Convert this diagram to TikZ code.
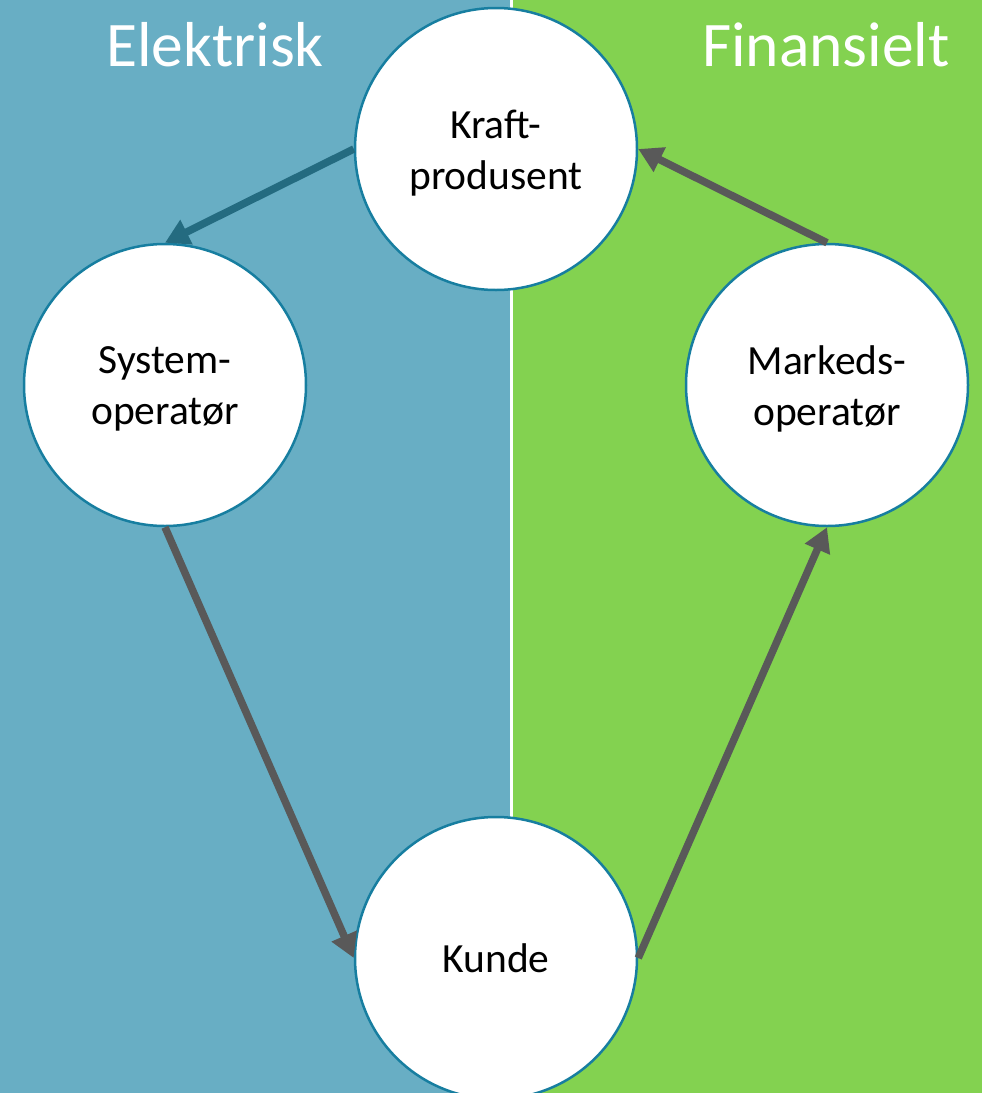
\documentclass[tikz,border=0pt]{standalone}
\usepackage{fontspec}
\setmainfont{Carlito}
\usetikzlibrary{arrows.meta}
\definecolor{bgblue}{RGB}{104,174,196}
\definecolor{bggreen}{RGB}{131,210,80}
\definecolor{ringblue}{RGB}{23,126,160}
\definecolor{arrteal}{RGB}{36,107,128}
\definecolor{arrgray}{RGB}{89,89,89}
\tikzset{
  actor/.style={circle, draw=ringblue, line width=2.5pt, fill=white, minimum size=282pt, inner sep=0pt, align=center, font=\fontsize{41.5}{51}\selectfont},
  flow/.style={line width=7.5pt, -{Triangle[length=24pt,width=26pt]}},
  title/.style={text=white, font=\fontsize{63.5}{70}\selectfont, inner sep=0pt}
}
\begin{document}
\begin{tikzpicture}[x=1pt,y=-1pt]
\useasboundingbox (0,0) rectangle (982,1093);
\clip (0,0) rectangle (982,1093);
\fill[bgblue] (0,0) rectangle (510,1093);
\fill[bggreen] (513,0) rectangle (982,1093);
\node[title] (el) at (215,45) {Elektrisk};
\node[title] (fi) at (826,45) {Finansielt};
\node[actor] (kp) at (496,149) {};
\node[font=\fontsize{41.5}{51}\selectfont, align=center] (kpt) at (496,153) {Kraft-\\produsent};
\node[actor] (so) at (165,385) {};
\node[font=\fontsize{41.5}{51}\selectfont, align=center] (sot) at (165,389) {System-\\operatør};
\node[actor] (mo) at (827,385) {};
\node[font=\fontsize{41.5}{51}\selectfont, align=center] (mot) at (827,389) {Markeds-\\operatør};
\node[actor] (ku) at (496,958) {Kunde};
\draw[flow, arrteal] (kp.west) -- (so.north);
\draw[flow, arrgray] (mo.north) -- (kp.east);
\draw[flow, arrgray] (so.south) -- (ku.west);
\draw[flow, arrgray] (ku.east) -- (mo.south);
\end{tikzpicture}
\end{document}
